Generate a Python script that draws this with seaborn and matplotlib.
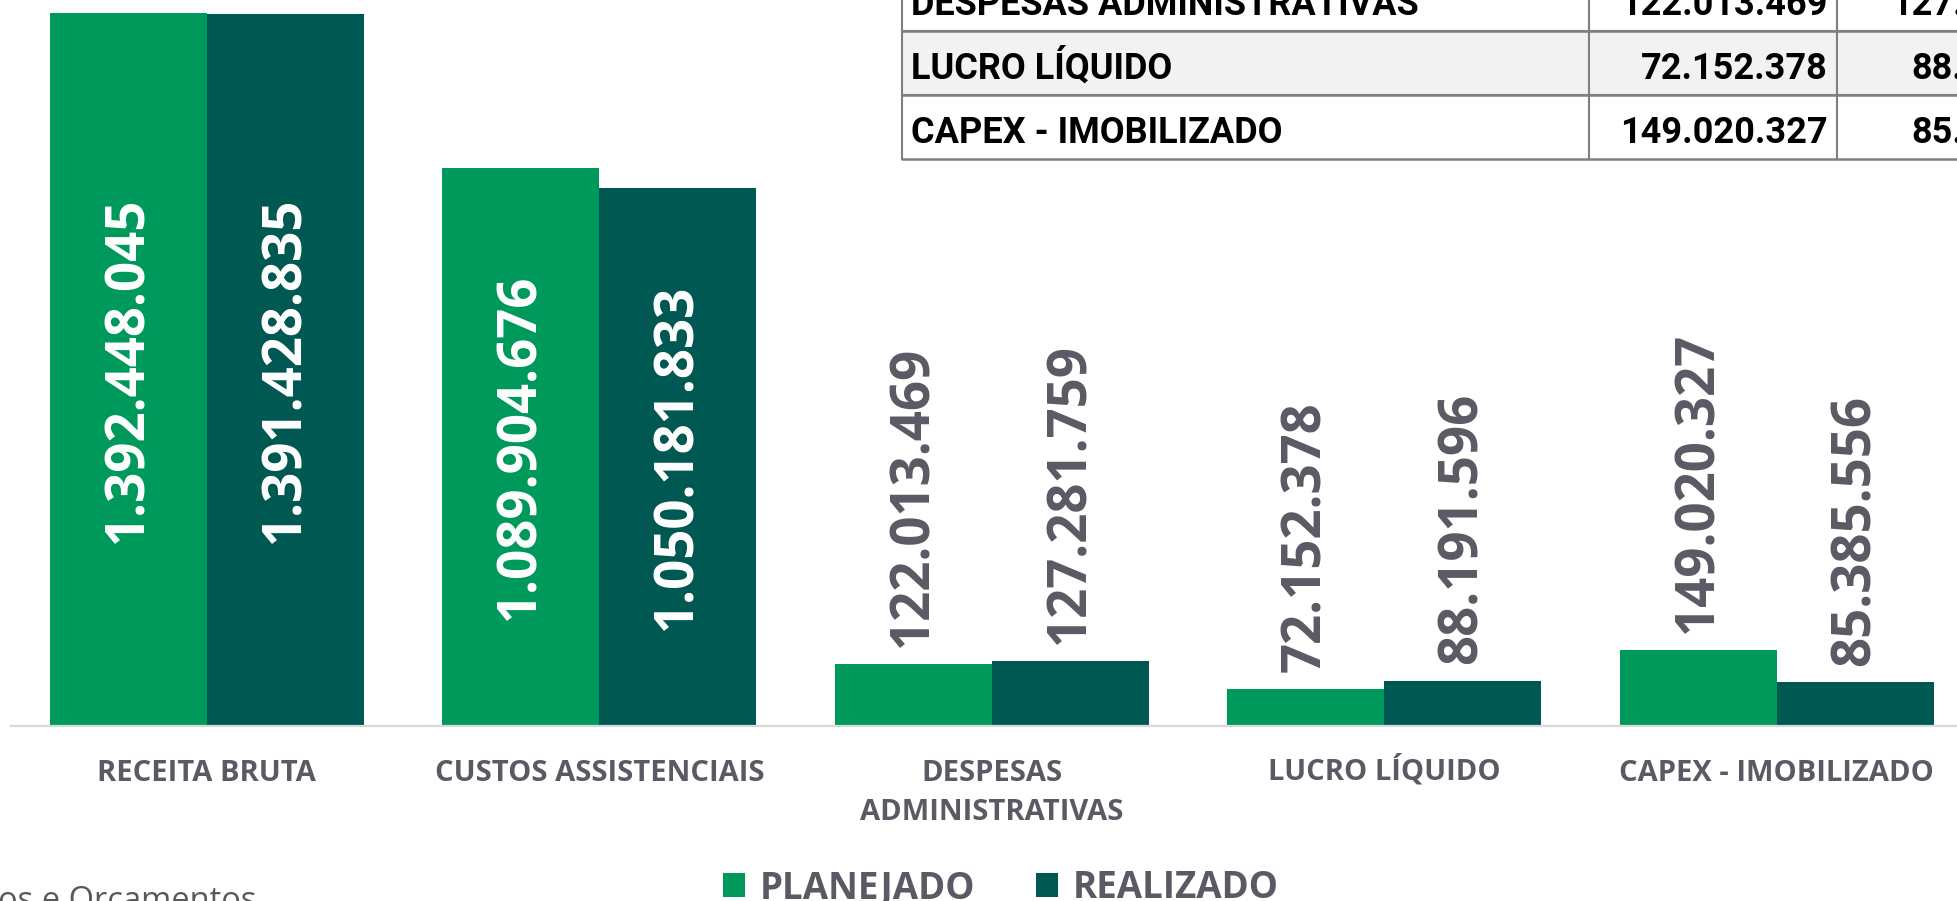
import matplotlib
matplotlib.use("Agg")
import matplotlib.pyplot as plt
import matplotlib.transforms as mtransforms
import seaborn as sns
import pandas as pd
from matplotlib.patches import Rectangle
from matplotlib.lines import Line2D

# ---- data ----
categories = ["RECEITA BRUTA", "CUSTOS ASSISTENCIAIS", "DESPESAS ADMINISTRATIVAS",
              "LUCRO LÍQUIDO", "CAPEX - IMOBILIZADO"]
tick_labels = ["RECEITA BRUTA", "CUSTOS ASSISTENCIAIS", "DESPESAS\nADMINISTRATIVAS",
               "LUCRO LÍQUIDO", "CAPEX - IMOBILIZADO"]
planejado = [1392448045, 1089904676, 122013469, 72152378, 149020327]
realizado = [1391428835, 1050181833, 127281759, 88191596, 85385556]
series = ["PLANEJADO", "REALIZADO"]
footer = "os e Orçamentos"

colors = ["#00995C", "#005853"]
gray = "#5A5A65"


def fmt(v):
    return f"{v:,}".replace(",", ".")


df = pd.DataFrame({
    "categoria": categories * 2,
    "serie": [series[0]] * len(categories) + [series[1]] * len(categories),
    "valor": planejado + realizado,
})

sns.set_theme(style="white")
plt.rcParams["font.family"] = ["Open Sans", "DejaVu Sans"]

W, H = 1957, 901
fig = plt.figure(figsize=(W / 100, H / 100), dpi=100)
fig.patch.set_facecolor("white")

ax = fig.add_axes([10.5 / W, (H - 726) / H, 1 - 10.5 / W, 726 / H])
sns.barplot(data=df, x="categoria", y="valor", hue="serie", palette=colors,
            saturation=1, width=0.8, gap=0, errorbar=None, linewidth=0, ax=ax)
handles, labels = ax.get_legend_handles_labels()
if ax.get_legend() is not None:
    ax.get_legend().remove()

ax.set_ylim(0, 1.4178e9)
ax.set_xlim(-0.5, 4.459)
ax.set_xlabel("")
ax.set_ylabel("")
ax.set_yticks([])
for s in ["top", "left", "right"]:
    ax.spines[s].set_visible(False)
ax.spines["bottom"].set_color("#D9D9D9")
ax.spines["bottom"].set_linewidth(1.6)
ax.set_xticks(range(len(categories)))
ax.set_xticklabels(tick_labels, fontsize=21, fontweight="bold", color=gray,
                   linespacing=1.45)
ax.tick_params(axis="x", length=0, pad=24)
ax.set_facecolor("none")
# labels with an accent sit a little lower; lift them to a common baseline
for lab in ax.get_xticklabels():
    if "Í" in lab.get_text():
        lab.set_transform(lab.get_transform() +
                          mtransforms.ScaledTranslation(0, 4 / 100, fig.dpi_scale_trans))

vmax = max(planejado + realizado)
for container, vals in zip(ax.containers, [planejado, realizado]):
    for bar, v in zip(container, vals):
        xc = bar.get_x() + bar.get_width() / 2
        h = bar.get_height()
        if v > 0.5 * vmax:
            ax.text(xc, h / 2, fmt(v), rotation=90, ha="center", va="center",
                    fontsize=38, fontweight="bold", color="white")
        else:
            ax.annotate(fmt(v), (xc, h), xytext=(0, 12), textcoords="offset points",
                        rotation=90, ha="center", va="bottom",
                        fontsize=38, fontweight="bold", color=gray)

# ---- overlay (table, legend, footer) ----
ov = fig.add_axes([0, 0, 1, 1])
ov.set_xlim(0, W)
ov.set_ylim(H, 0)
ov.axis("off")

row_h = 64
last_top = 95
x0, x1, x2, x3 = 902, 1589, 1837, 2107
line_c = "#7F7F7F"
tfont = dict(family=["Roboto", "DejaVu Sans"], fontweight="bold",
             fontsize=26, color="black")
n = len(categories)
for i, cat in enumerate(categories):
    top = last_top - (n - 1 - i) * row_h
    fill = "#F2F2F2" if i % 2 == 1 else "white"
    ov.add_patch(Rectangle((x0, top), x3 - x0, row_h, facecolor=fill,
                           edgecolor="none", zorder=1))
    ov.text(x0 + 9, top + 48, cat, ha="left", va="baseline", zorder=3, **tfont)
    ov.text(x2 - 9, top + 48, fmt(planejado[i]), ha="right", va="baseline",
            zorder=3, **tfont)
    ov.text(x3 - 9, top + 48, fmt(realizado[i]), ha="right", va="baseline",
            zorder=3, **tfont)
    ov.add_line(Line2D([x0, x3], [top, top], color=line_c, lw=1.5, zorder=2))
    ov.add_line(Line2D([x0, x3], [top + row_h, top + row_h], color=line_c,
                       lw=1.8, zorder=2))
table_top = last_top - n * row_h
for xv in [x0, x1, x2, x3]:
    ov.add_line(Line2D([xv, xv], [table_top, last_top + row_h], color=line_c,
                       lw=1.5, zorder=2))

ov.text(-2, 910, footer, fontsize=23.5, color="#595959", ha="left", va="baseline")

fig.legend(handles, labels, loc="center", bbox_to_anchor=(1001 / W, (H - 888) / H),
           ncol=2, frameon=False, prop={"weight": "bold", "size": 26.5},
           labelcolor=gray, handlelength=0.6, handleheight=0.6,
           handletextpad=0.4, columnspacing=1.65)

fig.savefig("out.png", dpi=100)
